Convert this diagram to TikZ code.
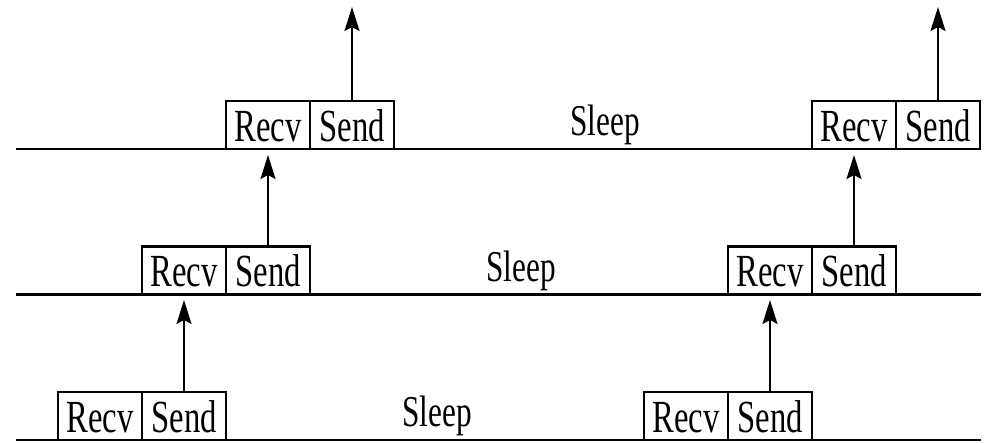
\documentclass[tikz,border=0pt]{standalone}
\usepackage{fontspec}
\setmainfont{Liberation Serif}
\usetikzlibrary{arrows.meta}
\newcommand{\narrow}[1]{\scalebox{0.71}[1]{#1}}
\tikzset{
  cell/.style={draw, line width=2.2pt, rectangle, minimum width=84pt, minimum height=48pt,
    inner sep=0pt, text height=32pt, text depth=0pt,
    font=\fontsize{46}{46}\selectfont, fill=white},
  sleeplbl/.style={anchor=base, inner sep=0pt, font=\fontsize{44}{44}\selectfont},
  axis/.style={line width=2.4pt},
  msg/.style={line width=2.2pt, -{Stealth[length=24pt,width=15pt,inset=4pt]}}
}
\begin{document}
\begin{tikzpicture}[x=1pt,y=-1pt]
\useasboundingbox (0,0) rectangle (985,442);
% time lines
\coordinate (L1) at (16,149);   \coordinate (R1) at (981,149);
\coordinate (L2) at (16,294.5); \coordinate (R2) at (981,294.5);
\coordinate (L3) at (16,440);   \coordinate (R3) at (981,440);
\draw[axis] (L1) -- (R1);
\draw[axis] (L2) -- (R2);
\draw[axis] (L3) -- (R3);
% row 3 (bottom)
\node[cell] (r3a) at (100,416) {\narrow{Recv}};
\node[cell] (s3a) at (184,416) {\narrow{Send}};
\node[cell] (r3b) at (686,416) {\narrow{Recv}};
\node[cell] (s3b) at (770,416) {\narrow{Send}};
\node[sleeplbl] (z3) at (437,426) {\narrow{Sleep}};
% row 2
\node[cell] (r2a) at (184,270.5) {\narrow{Recv}};
\node[cell] (s2a) at (268,270.5) {\narrow{Send}};
\node[cell] (r2b) at (770,270.5) {\narrow{Recv}};
\node[cell] (s2b) at (854,270.5) {\narrow{Send}};
\node[sleeplbl] (z2) at (521,281) {\narrow{Sleep}};
% row 1 (top)
\node[cell] (r1a) at (268,125) {\narrow{Recv}};
\node[cell] (s1a) at (352,125) {\narrow{Send}};
\node[cell] (r1b) at (854,125) {\narrow{Recv}};
\node[cell] (s1b) at (938,125) {\narrow{Send}};
\node[sleeplbl] (z1) at (605,135) {\narrow{Sleep}};
% arrow end points
\coordinate (t2) at (0,300);
\coordinate (t1) at (0,155);
\coordinate (t0) at (0,7);
% messages
\draw[msg] (s3a.north) -- (s3a.north |- t2);
\draw[msg] (s3b.north) -- (s3b.north |- t2);
\draw[msg] (s2a.north) -- (s2a.north |- t1);
\draw[msg] (s2b.north) -- (s2b.north |- t1);
\draw[msg] (s1a.north) -- (s1a.north |- t0);
\draw[msg] (s1b.north) -- (s1b.north |- t0);
\end{tikzpicture}
\end{document}
